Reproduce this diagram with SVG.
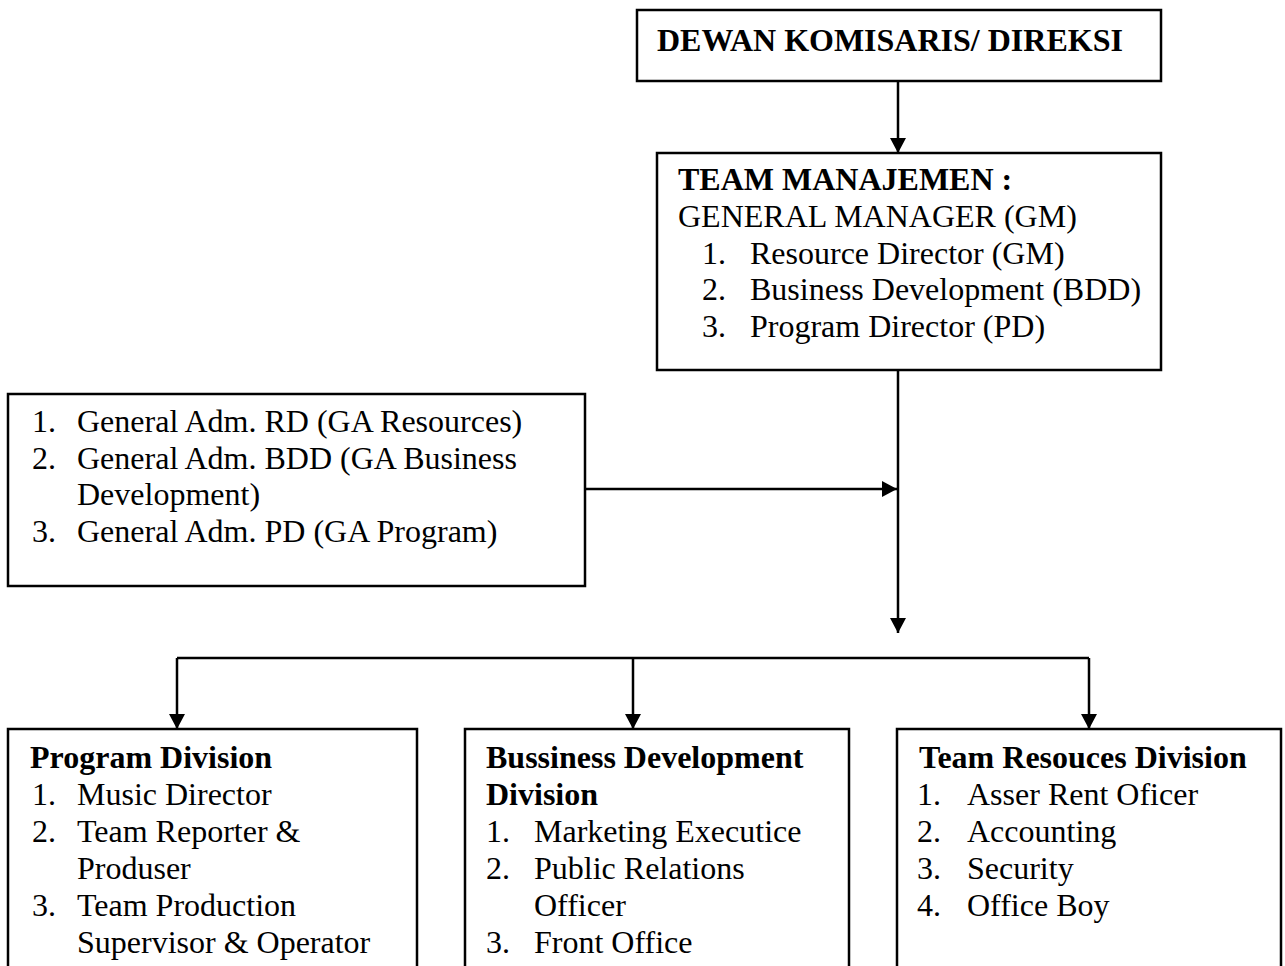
<svg xmlns="http://www.w3.org/2000/svg" width="1285" height="966" viewBox="0 0 1285 966">
  <style>
    text { font-family: "Liberation Serif", "Times New Roman", serif; font-size: 32px; fill: #000; }
    .b { font-weight: bold; }
    .box { fill: #fff; stroke: #000; stroke-width: 2.5; }
    .conn { fill: none; stroke: #000; stroke-width: 2.5; }
  </style>
  <defs>
    <marker id="arr" markerUnits="userSpaceOnUse" markerWidth="16" markerHeight="16" refX="15" refY="8" orient="auto" viewBox="0 0 16 16">
      <path d="M0,0 L15,8 L0,16 z" fill="#000"/>
    </marker>
  </defs>

  <g id="connectors">
    <line class="conn" x1="898" y1="81" x2="898" y2="153" marker-end="url(#arr)"/>
    <line class="conn" x1="898" y1="370" x2="898" y2="633" marker-end="url(#arr)"/>
    <line class="conn" x1="585" y1="489" x2="897" y2="489" marker-end="url(#arr)"/>
    <polyline class="conn" points="177,658 1089,658"/>
    <line class="conn" x1="177" y1="658" x2="177" y2="729" marker-end="url(#arr)"/>
    <line class="conn" x1="633" y1="658" x2="633" y2="729" marker-end="url(#arr)"/>
    <line class="conn" x1="1089" y1="658" x2="1089" y2="729" marker-end="url(#arr)"/>
  </g>

  <g id="dewan">
    <rect class="box" x="637" y="10" width="524" height="71"/>
    <text class="b" x="657" y="51">DEWAN KOMISARIS/ DIREKSI</text>
  </g>

  <g id="team-manajemen">
    <rect class="box" x="657" y="153" width="504" height="217"/>
    <text class="b" x="678" y="190">TEAM MANAJEMEN :</text>
    <text x="678" y="227">GENERAL MANAGER (GM)</text>
    <text x="702" y="264">1.</text><text x="750" y="264">Resource Director (GM)</text>
    <text x="702" y="300">2.</text><text x="750" y="300">Business Development (BDD)</text>
    <text x="702" y="337">3.</text><text x="750" y="337">Program Director (PD)</text>
  </g>

  <g id="general-adm">
    <rect class="box" x="8" y="394" width="577" height="192"/>
    <text x="32" y="432">1.</text><text x="77" y="432">General Adm. RD (GA Resources)</text>
    <text x="32" y="469">2.</text><text x="77" y="469">General Adm. BDD (GA Business</text>
    <text x="77" y="505">Development)</text>
    <text x="32" y="542">3.</text><text x="77" y="542">General Adm. PD (GA Program)</text>
  </g>

  <g id="program-division">
    <rect class="box" x="8" y="729" width="409" height="260"/>
    <text class="b" x="30" y="768">Program Division</text>
    <text x="32" y="805">1.</text><text x="77" y="805">Music Director</text>
    <text x="32" y="842">2.</text><text x="77" y="842">Team Reporter &amp;</text>
    <text x="77" y="879">Produser</text>
    <text x="32" y="916">3.</text><text x="77" y="916">Team Production</text>
    <text x="77" y="953">Supervisor &amp; Operator</text>
  </g>

  <g id="business-division">
    <rect class="box" x="465" y="729" width="384" height="260"/>
    <text class="b" x="486" y="768">Bussiness Development</text>
    <text class="b" x="486" y="805">Division</text>
    <text x="486" y="842">1.</text><text x="534" y="842">Marketing Executice</text>
    <text x="486" y="879">2.</text><text x="534" y="879">Public Relations</text>
    <text x="534" y="916">Officer</text>
    <text x="486" y="953">3.</text><text x="534" y="953">Front Office</text>
  </g>

  <g id="resources-division">
    <rect class="box" x="897" y="729" width="384" height="260"/>
    <text class="b" x="919" y="768">Team Resouces Division</text>
    <text x="917" y="805">1.</text><text x="967" y="805">Asser Rent Oficer</text>
    <text x="917" y="842">2.</text><text x="967" y="842">Accounting</text>
    <text x="917" y="879">3.</text><text x="967" y="879">Security</text>
    <text x="917" y="916">4.</text><text x="967" y="916">Office Boy</text>
  </g>
</svg>
